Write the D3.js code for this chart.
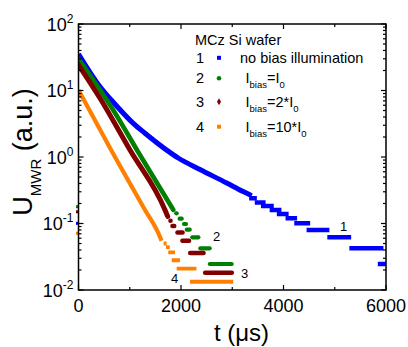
<!DOCTYPE html>
<html>
<head>
<meta charset="utf-8">
<script src="https://cdn.jsdelivr.net/npm/d3@7"></script>
<style>
  html, body { margin: 0; padding: 0; background: #fff; }
  svg { display: block; }
  text { font-family: "Liberation Sans", Arial, sans-serif; fill: #000; }
</style>
</head>
<body>
<svg id="chart" width="408" height="347"></svg>
<script>
// Microwave-reflection photoconductance decay of an MCz Si wafer, U_MWR(t)

// Series order: 1 no bias, 2 I_bias=I0, 3 I_bias=2*I0, 4 I_bias=10*I0
const seriesIds = ["1", "2", "3", "4"];

// Smooth part of each transient: [t (µs), U (a.u.)]
const noBiasDecay = [[0, 35.4], [420, 11.4], [640, 7.2], [1069, 3.21], [1292, 2.30], [1721, 1.27],
  [1946, 0.966], [2371, 0.649], [2892, 0.406], [3200, 0.305], [3380, 0.262]];
const bias1Decay = [[0, 29.8], [420, 10.2], [640, 5.65], [1200, 1.07], [1850, 0.160]];
const bias2Decay = [[0, 24.2], [420, 7.63], [1005, 1.27], [1688, 0.160], [1740, 0.128]];
const bias10Decay = [[0, 10.2], [615, 1.365], [1298, 0.160], [1551, 0.0733], [1620, 0.055]];

// Digitised tail: runs at one ADC level, [t start, t end, U]
const noBiasSteps = [[3330, 3480, 0.240], [3440, 3650, 0.207], [3560, 3810, 0.183], [3730, 3960, 0.160],
  [3870, 4100, 0.139], [4040, 4265, 0.120], [4210, 4520, 0.1007], [4450, 4895, 0.0798],
  [4855, 5320, 0.062], [5285, 5950, 0.0424], [5840, 6000, 0.0246]];
const bias1Steps = [[1863, 1961, 0.142], [1928, 2059, 0.118], [2014, 2142, 0.0982], [2068, 2215, 0.0807],
  [2176, 2384, 0.0620], [2332, 2605, 0.0424], [2517, 3034, 0.0246]];
const bias2Steps = [[1746, 1844, 0.110], [1785, 1916, 0.0917], [1883, 2078, 0.0732], [1980, 2205, 0.0551],
  [2131, 2488, 0.0360], [2423, 3040, 0.0182]];
const bias10Steps = [[1660, 1720, 0.0500], [1707, 1780, 0.0441], [1752, 1883, 0.0367], [1819, 1980, 0.0280],
  [1916, 2302, 0.0209], [2176, 3020, 0.0133]];

// Signal level recorded before the excitation pulse (t = 0), per series
const preTriggerLevels = [0.1007, 0.179, 0.150, 0.0713];

// Curve annotations: [label, t, U]
const curveLabels = [["1", 5175, 0.078], ["2", 2697, 0.0551], ["3", 3239, 0.0150], ["4", 1877, 0.0126]];

// Legend rows
const legendTitle = "MCz Si wafer";
const legendRows = [
  { id: "1", parts: [["no bias illumination", false]] },
  { id: "2", parts: [["I", false], ["bias", true], ["=I", false], ["0", true]] },
  { id: "3", parts: [["I", false], ["bias", true], ["=2*I", false], ["0", true]] },
  { id: "4", parts: [["I", false], ["bias", true], ["=10*I", false], ["0", true]] }
];

// Axis ticks
const xTickValues = [0, 2000, 4000, 6000];
const xMinorValues = [1000, 3000, 5000];
const yTickExponents = [2, 1, 0, -1, -2];

// ---------- styling ----------
const colors = ["#0000ff", "#008000", "#800000", "#ff8000"];
const widths = [5, 4.6, 5, 4.2];
const caps = ["butt", "round", "round", "butt"];

const W = 408, H = 347;
const plot = { left: 78.5, right: 386, top: 24, bottom: 290 };

const svg = d3.select("#chart");
svg.append("rect").attr("width", W).attr("height", H).attr("fill", "#fff");

const x = d3.scaleLinear().domain([0, 6000]).range([plot.left, plot.right]);
const y = d3.scaleLog().domain([0.01, 100]).range([plot.bottom, plot.top]);

svg.append("clipPath").attr("id", "plotClip")
  .append("rect")
  .attr("x", plot.left).attr("y", plot.top)
  .attr("width", plot.right - plot.left).attr("height", plot.bottom - plot.top);

const decays = [noBiasDecay, bias1Decay, bias2Decay, bias10Decay];
const steps = [noBiasSteps, bias1Steps, bias2Steps, bias10Steps];

// pre-trigger samples sit on the left frame
const pre = svg.append("g");
preTriggerLevels.forEach((v, i) => {
  pre.append("rect")
    .attr("x", x(0) - 2.5).attr("y", y(v) - 1.5)
    .attr("width", 3).attr("height", 3)
    .attr("fill", colors[i]);
});

const dataG = svg.append("g").attr("clip-path", "url(#plotClip)");
const line = d3.line().x(d => x(d[0])).y(d => y(d[1])).curve(d3.curveMonotoneX);

seriesIds.forEach((id, i) => {
  const g = dataG.append("g");
  g.append("path")
    .datum(decays[i])
    .attr("d", line)
    .attr("fill", "none")
    .attr("stroke", colors[i])
    .attr("stroke-width", widths[i])
    .attr("stroke-linecap", caps[i]);
  const inset = caps[i] === "round" ? widths[i] / 2 : 0;
  g.selectAll("line.step")
    .data(steps[i])
    .join("line")
    .attr("class", "step")
    .attr("x1", d => x(d[0]) + inset)
    .attr("x2", d => Math.max(x(d[0]) + inset, x(d[1]) - inset))
    .attr("y1", d => y(d[2]))
    .attr("y2", d => y(d[2]))
    .attr("stroke", colors[i])
    .attr("stroke-width", widths[i] - 0.4)
    .attr("stroke-linecap", caps[i]);
});

// curve numbers
svg.append("g").selectAll("text")
  .data(curveLabels)
  .join("text")
  .attr("x", d => x(d[1]))
  .attr("y", d => y(d[2]))
  .attr("text-anchor", "middle")
  .attr("font-size", 13)
  .text(d => d[0]);

// ---------- frame and ticks ----------
const axisG = svg.append("g").attr("stroke", "#000").attr("stroke-width", 1.2);
axisG.append("rect")
  .attr("x", plot.left).attr("y", plot.top)
  .attr("width", plot.right - plot.left).attr("height", plot.bottom - plot.top)
  .attr("fill", "none").attr("stroke-width", 1.5);

const majorLen = 5, minorLen = 3;
xTickValues.forEach(t => {
  axisG.append("line").attr("x1", x(t)).attr("x2", x(t)).attr("y1", plot.bottom).attr("y2", plot.bottom - majorLen);
  axisG.append("line").attr("x1", x(t)).attr("x2", x(t)).attr("y1", plot.top).attr("y2", plot.top + majorLen);
});
xMinorValues.forEach(t => {
  axisG.append("line").attr("x1", x(t)).attr("x2", x(t)).attr("y1", plot.bottom).attr("y2", plot.bottom - minorLen);
  axisG.append("line").attr("x1", x(t)).attr("x2", x(t)).attr("y1", plot.top).attr("y2", plot.top + minorLen);
});
y.ticks(20).forEach(v => {
  const e = Math.log10(v);
  const major = Math.abs(e - Math.round(e)) < 1e-9;
  const len = major ? majorLen : minorLen;
  const yy = y(v);
  axisG.append("line").attr("x1", plot.left).attr("x2", plot.left + len).attr("y1", yy).attr("y2", yy);
  axisG.append("line").attr("x1", plot.right).attr("x2", plot.right - len).attr("y1", yy).attr("y2", yy);
});

// x tick labels
svg.append("g").selectAll("text")
  .data(xTickValues)
  .join("text")
  .attr("x", d => x(d))
  .attr("y", 311.5)
  .attr("text-anchor", "middle")
  .attr("font-size", 18)
  .text(d => d);

// y tick labels 10^n
const yLab = svg.append("g");
yTickExponents.forEach(e => {
  const t = yLab.append("text")
    .attr("x", 73.5)
    .attr("y", y(Math.pow(10, e)) + 6.5)
    .attr("text-anchor", "end")
    .attr("font-size", 18);
  t.append("tspan").text("10");
  t.append("tspan").attr("font-size", 12).attr("dy", -8).text(String(e));
});

// axis titles
svg.append("text")
  .attr("x", 241.5).attr("y", 341)
  .attr("text-anchor", "middle")
  .attr("font-size", 24)
  .text("t (\u03bcs)");

const yt = svg.append("text")
  .attr("transform", "translate(32,152) rotate(-90)")
  .attr("text-anchor", "middle")
  .attr("font-size", 27);
yt.append("tspan").text("U");
yt.append("tspan").attr("font-size", 15).attr("dy", 9).text("MWR");
yt.append("tspan").attr("dy", -9).text(" (a.u.)");

// ---------- legend ----------
const leg = svg.append("g");
leg.append("text").attr("x", 195).attr("y", 45).attr("font-size", 14.5).text(legendTitle);
const rowBase = [62.8, 83.3, 106.7, 131.7];
const markX = 219;
legendRows.forEach((r, i) => {
  const by = rowBase[i];
  leg.append("text").attr("x", 196).attr("y", by).attr("font-size", 14.5).text(r.id);
  const my = by - 5;
  if (i === 0 || i === 3) {
    leg.append("rect").attr("x", markX - 2).attr("y", my - 2).attr("width", 4).attr("height", 4).attr("fill", colors[i]);
  } else if (i === 1) {
    leg.append("circle").attr("cx", markX).attr("cy", my).attr("r", 2.3).attr("fill", colors[i]);
  } else {
    leg.append("path").attr("d", d3.symbol(d3.symbolDiamond, 14)()).attr("transform", `translate(${markX},${my})`).attr("fill", colors[i]);
  }
  const t = leg.append("text").attr("x", i === 0 ? 240 : 245.5).attr("y", by).attr("font-size", 14.5);
  let shifted = false;
  r.parts.forEach(([s, sub]) => {
    const ts = t.append("tspan").text(s);
    if (sub && !shifted) { ts.attr("font-size", 9.5).attr("dy", 5); shifted = true; }
    else if (!sub && shifted) { ts.attr("dy", -5); shifted = false; }
    else if (sub) { ts.attr("font-size", 9.5); }
  });
});
</script>
</body>
</html>
